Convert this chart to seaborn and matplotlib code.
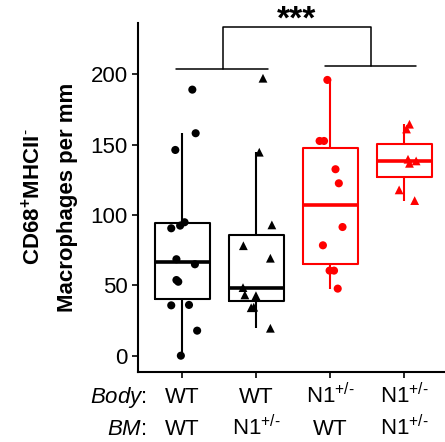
import pandas as pd
import matplotlib
matplotlib.use("Agg")
import matplotlib.pyplot as plt
import matplotlib.transforms as mtransforms
import seaborn as sns

# values (macrophages per mm)
wt_wt = [189.2, 158.2, 146.3, 94.9, 92.5, 90.6, 68.6, 65.0, 53.8, 52.6, 35.8, 36.1, 17.8, 0.0]
wt_n1 = [197.3, 144.7, 93.0, 78.2, 69.3, 48.4, 43.2, 42.7, 34.1, 34.5, 19.5]
n1_wt = [196.1, 152.7, 152.7, 132.6, 122.6, 91.5, 78.5, 60.5, 60.5, 47.7]
n1_n1 = [164.6, 161.2, 139.7, 136.8, 138.5, 117.9, 110.3]

# horizontal jitter of each point, as seen in the picture
jit_wt_wt = [0.135, 0.18, -0.095, 0.03, -0.03, -0.15, -0.08, 0.17, -0.08, -0.055, -0.15, 0.09, 0.2, -0.02]
jit_wt_n1 = [0.09, 0.04, 0.21, -0.175, 0.19, -0.18, -0.155, -0.005, -0.07, -0.035, 0.19]
jit_n1_wt = [-0.04, -0.145, -0.085, 0.07, 0.115, 0.165, -0.1, -0.01, 0.05, 0.1]
jit_n1_n1 = [0.07, 0.03, 0.05, 0.07, 0.16, -0.07, 0.14]

het = r"N1$^{+/\text{-}}$"
body_labels = ["WT", "WT", het, het]
bm_labels = ["WT", het, "WT", het]
colors = ["black", "black", "#FF0000", "#FF0000"]
markers = ["o", "^", "o", "^"]

rows = []
for code, (vals, jit) in enumerate([(wt_wt, jit_wt_wt), (wt_n1, jit_wt_n1),
                                    (n1_wt, jit_n1_wt), (n1_n1, jit_n1_n1)]):
    for v, j in zip(vals, jit):
        rows.append({"group": code, "value": v, "xpos": code + j})
df = pd.DataFrame(rows)

sns.set_style("ticks")
plt.rcParams["font.family"] = ["Liberation Sans", "DejaVu Sans"]
plt.rcParams["mathtext.fontset"] = "custom"
plt.rcParams["mathtext.rm"] = "Liberation Sans"
plt.rcParams["mathtext.it"] = "Liberation Sans:italic"
plt.rcParams["mathtext.bf"] = "Liberation Sans:bold"
plt.rcParams["text.color"] = "black"
plt.rcParams["xtick.color"] = "black"
plt.rcParams["ytick.color"] = "black"

fig = plt.figure(figsize=(4.45, 4.42), dpi=100)
ax = fig.add_axes([0.310, 0.159, 0.690, 0.789])

sns.boxplot(data=df, x="group", y="value", hue="group", palette=colors,
            order=[0, 1, 2, 3], hue_order=[0, 1, 2, 3], fill=False, width=0.75,
            showcaps=False, showfliers=False, linewidth=1.5,
            medianprops={"linewidth": 2.6}, legend=False, ax=ax)

for code in range(4):
    sub = df[df.group == code]
    sns.scatterplot(data=sub, x="xpos", y="value", color=colors[code],
                    marker=markers[code], s=34 if markers[code] == "o" else 40,
                    edgecolor="none", legend=False, ax=ax, zorder=3)

ax.set_xlim(-0.6, 3.55)
ax.set_ylim(-11.4, 236.6)
ax.set_yticks([0, 50, 100, 150, 200])
ax.set_xticks(range(4))
ax.set_xticklabels([])
ax.set_xlabel("")
ax.set_ylabel("")
ax.tick_params(axis="both", length=4, width=1.2, labelsize=16, color="black", labelcolor="black")
sns.despine(ax=ax)
for side in ["left", "bottom"]:
    ax.spines[side].set_linewidth(1.5)
    ax.spines[side].set_color("black")

# category rows under the axis
trans = mtransforms.blended_transform_factory(ax.transData, fig.transFigure)
for i in range(4):
    ax.text(i, 0.0875, body_labels[i], transform=trans, ha="center", va="baseline", fontsize=16)
    ax.text(i, 0.0158, bm_labels[i], transform=trans, ha="center", va="baseline", fontsize=16)
fig.text(0.330, 0.0875, r"$\it{Body}$:", ha="right", va="baseline", fontsize=16)
fig.text(0.330, 0.0158, r"$\it{BM}$:", ha="right", va="baseline", fontsize=16)

# y label, two lines
fig.text(33 / 445, 0.554, r"CD68$^{\mathbf{+}}$MHCII$^{\text{-}}$", rotation=90,
         ha="center", va="center", fontsize=16, fontweight="bold")
fig.text(67 / 445, 0.554, "Macrophages per mm", rotation=90,
         ha="center", va="center", fontsize=16, fontweight="bold")

# significance bracket
kw = dict(color="black", lw=1.1, clip_on=False)
ax.plot([-0.08, 1.16], [203.7, 203.7], **kw)
ax.plot([1.93, 3.16], [206.0, 206.0], **kw)
ax.plot([0.55, 0.55, 2.55, 2.55], [203.7, 234.0, 234.0, 206.0], **kw)
ax.text(1.55, 238.5, "***", ha="center", va="center", fontsize=24,
        fontweight="bold", color="black", clip_on=False)

fig.savefig("out.png", dpi=100)
